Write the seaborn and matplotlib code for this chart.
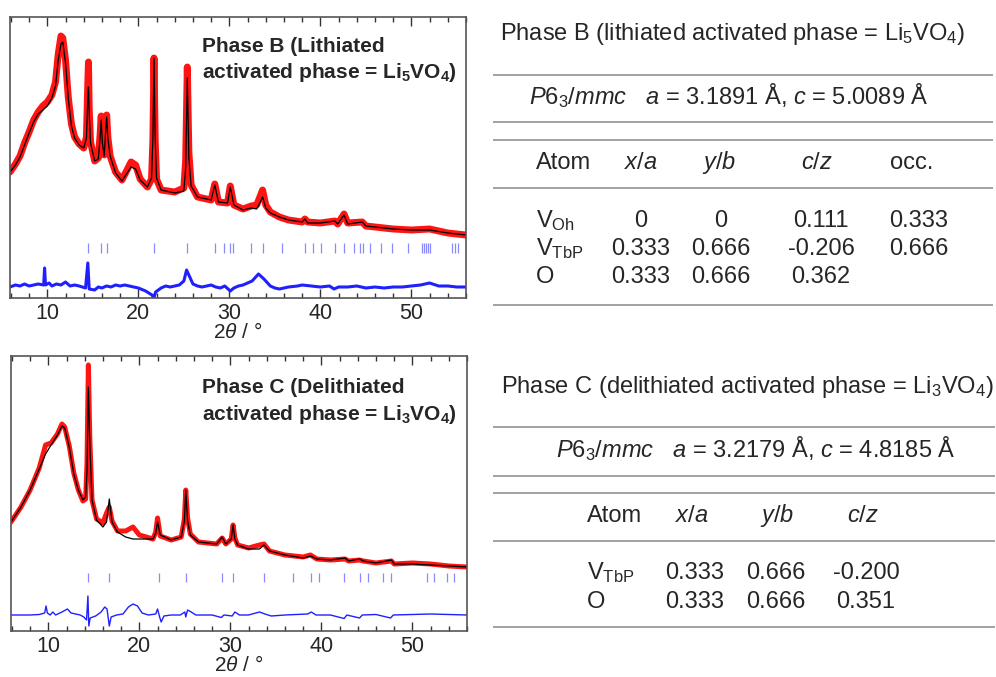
import matplotlib
matplotlib.use("Agg")
import matplotlib.pyplot as plt
import seaborn as sns
from matplotlib.ticker import MultipleLocator

# Phase B pattern (intensity in arbitrary units)
b_calc_x = [5.9, 6.5, 7.0, 7.5, 8.0, 8.5, 9.0, 9.5, 10.0, 10.5, 10.9, 11.2, 11.5, 11.7, 12.0, 12.3, 12.65,
            13.0, 13.5, 14.0, 14.3, 14.45, 14.52, 14.6, 14.75, 15.2, 15.6, 15.8, 15.92, 16.05, 16.25, 16.4,
            16.52, 16.65, 16.9, 17.5, 18.2, 18.7, 19.2, 19.7, 20.2, 21.0, 21.45, 21.6, 21.72, 21.85, 22.0,
            22.5, 24.0, 25.0, 25.2, 25.38, 25.55, 25.8, 26.5, 28.0, 28.4, 28.8, 29.8, 30.1, 30.5, 31.5, 32.4,
            33.0, 33.4, 33.65, 34.0, 34.5, 35.5, 36.5, 38.0, 38.3, 38.6, 40.0, 41.6, 41.9, 42.6, 43.0, 44.6,
            45.0, 46.0, 48.0, 50.0, 52.0, 54.0, 56.0]
b_calc_y = [126, 133, 141, 153, 165, 176, 184, 188, 192, 200, 212, 238, 254, 256, 235, 200, 172,
            160, 153, 150, 160, 200, 211, 185, 155, 137, 139, 160, 178, 155, 142, 165,
            181, 160, 142, 125, 117, 124, 131, 129, 118, 111, 120, 160, 240, 160, 120,
            108, 105, 107, 130, 220, 140, 112, 101, 98, 113, 96, 95, 111, 93, 88, 90,
            89, 96, 101, 90, 85, 81, 78, 76, 79, 75, 75, 77, 74, 83, 74, 76,
            72, 71, 69, 68, 68, 65, 63]
b_obs_y = [126, 134, 142, 155, 166, 178, 186, 192, 196, 203, 216, 244, 262, 260, 238, 201, 174,
           161, 154, 150, 161, 215, 236, 190, 156, 137, 140, 163, 182, 156, 143, 168,
           183, 161, 142, 126, 118, 127, 136, 133, 119, 111, 119, 158, 240, 158, 119,
           108, 106, 110, 138, 231, 146, 113, 101, 98, 114, 96, 95, 112, 93, 89, 92,
           93, 102, 108, 93, 86, 81, 78, 76, 79, 76, 75, 77, 74, 84, 75, 76,
           72, 71, 69, 68, 69, 65, 63]
b_diff_x = [5.9, 6.5, 7.0, 7.5, 8.0, 8.5, 9.0, 9.6, 9.7, 9.8, 10.2, 10.5, 11.0, 11.5, 12.0, 12.5, 13.0,
            13.5, 14.2, 14.45, 14.6, 15.2, 15.6, 16.0, 16.5, 17.0, 17.5, 18.0, 18.5, 19.0, 19.5, 20.0,
            20.8, 21.5, 21.7, 21.9, 22.5, 23.0, 23.5, 24.0, 24.5, 25.0, 25.3, 25.6, 26.0, 26.5, 27.0,
            27.5, 28.0, 28.5, 29.0, 29.5, 30.1, 30.5, 31.0, 31.5, 32.0, 32.5, 33.2, 33.8, 34.5, 35.0,
            35.5, 36.5, 37.5, 38.0, 39.0, 40.0, 41.0, 41.5, 42.0, 43.0, 44.0, 45.0, 46.0, 47.0, 48.0,
            49.0, 50.0, 51.0, 52.0, 53.0, 54.0, 55.0, 56.0]
b_diff_y = [11, 13, 12, 14, 12, 13, 14, 13, 30, 13, 15, 12, 14, 13, 16, 12, 13,
            12, 10, 35, 9, 8, 11, 10, 12, 11, 13, 12, 13, 12, 11, 10,
            7, 3, 0, 6, 10, 12, 11, 12, 13, 17, 28, 22, 14, 12, 11,
            12, 13, 11, 10, 12, 7, 10, 12, 13, 15, 17, 24, 19, 12, 10,
            9, 11, 12, 13, 12, 11, 12, 9, 11, 11, 12, 10, 11, 10, 11,
            11, 12, 13, 15, 12, 12, 11, 11]
b_reflections = [14.52, 15.95, 16.57, 21.72, 25.35, 28.37, 29.36, 30.09, 30.42, 32.41, 33.73, 35.75,
                 38.36, 39.20, 40.05, 41.63, 42.62, 43.68, 44.38, 44.67, 45.48, 46.62, 47.83, 49.60,
                 51.18, 51.40, 51.62, 51.84, 52.06, 54.44, 54.77, 55.07]

# Phase C pattern
c_calc_x = [5.9, 7.0, 8.0, 9.0, 9.7, 10.3, 11.0, 11.5, 11.8, 12.3, 12.8, 13.3, 13.8, 14.1, 14.25, 14.4,
            14.55, 14.8, 15.3, 16.0, 16.4, 16.7, 17.0, 17.6, 18.5, 19.3, 20.0, 21.5, 21.8, 22.0, 22.3,
            23.5, 24.6, 24.95, 25.1, 25.3, 25.6, 26.5, 28.5, 29.1, 29.5, 30.1, 30.3, 30.5, 30.8, 32.0,
            33.2, 33.7, 34.3, 36.0, 38.0, 38.8, 39.5, 41.0, 42.6, 43.0, 44.2, 44.6, 46.0, 47.7, 48.0,
            50.0, 52.0, 54.0, 56.0]
c_calc_y = [109, 124, 141, 162, 177, 186, 196, 205, 203, 184, 157, 141, 131, 134, 160, 244,
            190, 131, 111, 104, 109, 132, 109, 99, 94, 92, 92, 92, 98, 109, 96,
            91, 94, 110, 141, 110, 96, 89, 87, 94, 87, 92, 106, 92, 86, 82,
            82, 86, 80, 76, 73, 75, 72, 71, 73, 70, 72, 70, 68, 71, 67,
            67, 66, 65, 64]
c_obs_y = [109, 124, 141, 163, 186, 188, 197, 207, 204, 185, 158, 141, 130, 132, 168, 266,
           195, 131, 112, 108, 118, 124, 110, 100, 100, 104, 96, 92, 99, 113, 95,
           91, 94, 112, 141, 113, 97, 89, 87, 93, 87, 92, 106, 93, 86, 83,
           86, 87, 80, 76, 74, 76, 72, 71, 72, 70, 71, 70, 68, 70, 67,
           68, 67, 65, 64]
c_diff_x = [5.9, 8.0, 9.0, 9.6, 9.75, 9.9, 10.2, 10.5, 10.8, 11.5, 12.1, 12.5, 13.0, 13.5, 13.9, 14.2,
            14.35, 14.45, 14.6, 15.2, 15.8, 16.2, 16.45, 16.7, 16.9, 17.5, 18.2, 18.8, 19.3, 19.8, 20.3,
            21.0, 21.8, 22.0, 22.2, 22.4, 22.7, 23.5, 24.5, 25.0, 25.1, 25.3, 25.7, 26.2, 28.0, 29.0,
            29.3, 30.2, 30.5, 31.0, 32.0, 33.2, 33.8, 34.5, 36.0, 38.5, 38.9, 39.4, 41.0, 42.5, 42.8,
            44.2, 44.5, 46.0, 47.6, 47.9, 50.0, 52.0, 54.0, 56.0]
c_diff_y = [16, 16, 16.5, 18, 25, 18, 16, 19, 16, 19, 22, 18, 17, 16, 14, 11,
            35, 5, 13, 15, 19, 24, 22, 5, 14, 16, 17, 24, 27, 25, 18,
            16, 17, 22, 15, 9, 15, 16, 16, 19, 14, 21, 19, 16, 16, 13.5,
            16, 15, 19, 16, 16, 19, 17, 15, 16, 17, 19, 16, 16, 12.5, 16,
            13, 16, 16.5, 13, 16, 16.5, 17, 16.5, 16]
c_reflections = [14.36, 16.70, 22.11, 25.08, 29.07, 30.31, 33.71, 36.90, 38.84, 39.75, 42.53,
                 44.29, 45.13, 46.82, 47.62, 51.61, 52.38, 53.84, 54.61]

# Table contents
b_title = "Phase B (lithiated activated phase = Li$_5$VO$_4$)"
b_cell = r"$\mathit{P6_3/mmc}$   $\mathit{a}$ = 3.1891 Å, $\mathit{c}$ = 5.0089 Å"
b_header = ["Atom", r"$\mathit{x/a}$", r"$\mathit{y/b}$", r"$\mathit{c/z}$", "occ."]
b_atoms = [r"V$_{\mathrm{Oh}}$", r"V$_{\mathrm{TbP}}$", "O"]
b_rows = [["0", "0", "0.111", "0.333"],
          ["0.333", "0.666", "-0.206", "0.666"],
          ["0.333", "0.666", "0.362", ""]]

c_title = "Phase C (delithiated activated phase = Li$_3$VO$_4$)"
c_cell = r"$\mathit{P6_3/mmc}$   $\mathit{a}$ = 3.2179 Å, $\mathit{c}$ = 4.8185 Å"
c_header = ["Atom", r"$\mathit{x/a}$", r"$\mathit{y/b}$", r"$\mathit{c/z}$"]
c_atoms = [r"V$_{\mathrm{TbP}}$", "O"]
c_rows = [["0.333", "0.666", "-0.200"],
          ["0.333", "0.666", "0.351"]]

sns.set_style("ticks")
plt.rcParams['font.family'] = ['Liberation Sans', 'DejaVu Sans']
plt.rcParams['mathtext.fontset'] = 'custom'
plt.rcParams['mathtext.rm'] = 'Liberation Sans'
plt.rcParams['mathtext.it'] = 'Liberation Sans:italic'
plt.rcParams['mathtext.bf'] = 'Liberation Sans:bold'

fig = plt.figure(figsize=(9.96, 6.77), dpi=100)


def draw_pattern(ax, obs_x, obs_y, calc_x, calc_y, diff_x, diff_y, refl, tick_span, lines, ytop,
                 label_pos, obs_lw, diff_lw):
    sns.lineplot(x=obs_x, y=obs_y, ax=ax, color='#ff1414', lw=obs_lw, sort=False, estimator=None)
    sns.lineplot(x=calc_x, y=calc_y, ax=ax, color='black', lw=0.9, sort=False, estimator=None)
    sns.lineplot(x=diff_x, y=diff_y, ax=ax, color='#2020ff', lw=diff_lw, sort=False, estimator=None)
    ax.vlines(refl, tick_span[0], tick_span[1], color='#8a8aff', lw=0.9)
    ax.set_xlim(5.9, 56.0)
    ax.set_ylim(0, ytop)
    ax.set_yticks([])
    ax.set_ylabel("")
    ax.xaxis.set_major_locator(MultipleLocator(10))
    ax.xaxis.set_minor_locator(MultipleLocator(2))
    ax.tick_params(axis='x', which='both', direction='in', top=True, bottom=True,
                   labelsize=15.5, color='#333333', pad=3.5)
    ax.tick_params(axis='x', which='major', length=6.5, width=1.0)
    ax.tick_params(axis='x', which='minor', length=3.5, width=1.0)
    for s in ax.spines.values():
        s.set_visible(True)
        s.set_color('#555555')
        s.set_linewidth(1.2)
    ax.set_xlabel(r'$\mathit{2\theta}$ / °', fontsize=15, labelpad=-1)
    for text, y in zip(lines, label_pos[1]):
        ax.text(label_pos[0], y, text, transform=ax.transAxes, fontsize=15, fontweight='bold',
                va='baseline', ha='left')


ax_b = fig.add_axes([10 / 996, 1 - 298 / 677, 456 / 996, 281 / 677])
draw_pattern(ax_b, b_calc_x, b_obs_y, b_calc_x, b_calc_y, b_diff_x, b_diff_y, b_reflections, (45, 55),
             ["Phase B (Lithiated", r"activated phase = Li$_\mathbf{5}$VO$_\mathbf{4}$)"], 281,
             (0.42, (0.875, 0.783)), 5.0, 2.2)

ax_c = fig.add_axes([11 / 996, 1 - 631 / 677, 456 / 996, 275 / 677])
draw_pattern(ax_c, c_calc_x, c_obs_y, c_calc_x, c_calc_y, c_diff_x, c_diff_y, c_reflections, (49, 58),
             ["Phase C (Delithiated", r"activated phase = Li$_\mathbf{3}$VO$_\mathbf{4}$)"], 275,
             (0.418, (0.864, 0.767)), 3.6, 1.0)

# Tables drawn on an overlay in pixel coordinates
tab = fig.add_axes([0, 0, 1, 1], zorder=-1)
tab.set_xlim(0, 996)
tab.set_ylim(677, 0)
tab.axis('off')

fs = 17
line_kw = dict(color='#9a9a9a', lw=1.3)

# Phase B table
tab.text(500, 40, b_title, fontsize=fs, va='baseline')
tab.hlines([75, 122, 140, 188, 305], 493, 993, **line_kw)
tab.text(529, 104, b_cell, fontsize=fs, va='baseline')
tab.text(536, 169, b_header[0], fontsize=fs, va='baseline')
for txt, x in zip(b_header[1:], [641, 719, 817, 912]):
    tab.text(x, 169, txt, fontsize=fs, va='baseline', ha='center')
for atom, row, y in zip(b_atoms, b_rows, [227, 255, 283]):
    tab.text(536, y, atom, fontsize=fs, va='baseline')
    for txt, x in zip(row, [641, 721, 821, 919]):
        tab.text(x, y, txt, fontsize=fs, va='baseline', ha='center')

# Phase C table
tab.text(501, 393, c_title, fontsize=fs, va='baseline')
tab.hlines([427, 476, 493, 541, 627], 493, 995, **line_kw)
tab.text(556, 457, c_cell, fontsize=fs, va='baseline')
tab.text(587, 522, c_header[0], fontsize=fs, va='baseline')
for txt, x in zip(c_header[1:], [692, 777, 863]):
    tab.text(x, 522, txt, fontsize=fs, va='baseline', ha='center')
for atom, row, y in zip(c_atoms, c_rows, [579, 608]):
    tab.text(587, y, atom, fontsize=fs, va='baseline')
    for txt, x in zip(row, [695, 776, 866]):
        tab.text(x, y, txt, fontsize=fs, va='baseline', ha='center')

fig.savefig("out.png", dpi=100)
